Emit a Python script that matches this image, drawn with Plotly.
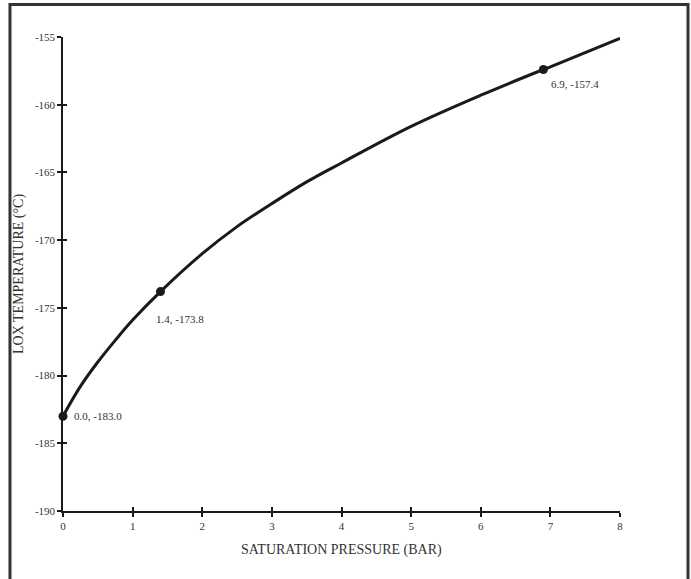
import plotly.graph_objects as go

# Saturation curve (gauge pressure in bar vs LOX temperature in °C)
pressure = [0, 0.25, 0.5, 0.75, 1.0, 1.4, 2.0, 2.5, 3.0, 3.5, 4.0, 5.0, 6.0, 6.9, 7.0, 8.0]
temperature = [-183.0, -180.8, -179.0, -177.4, -175.9, -173.8, -171.0, -169.0, -167.3, -165.7, -164.3, -161.6, -159.3, -157.4, -157.2, -155.1]

# Highlighted points
mark_p = [0.0, 1.4, 6.9]
mark_t = [-183.0, -173.8, -157.4]
mark_labels = ["0.0, -183.0", "1.4, -173.8", "6.9, -157.4"]

x_ticks = [0, 1, 2, 3, 4, 5, 6, 7, 8]
x_tick_text = ["0", "1", "2", "3", "4", "5", "6", "7", "8"]
y_ticks = [-190, -185, -180, -175, -170, -165, -160, -155]
y_tick_text = ["-190", "-185", "-180", "-175", "-170", "-165", "-160", "-155"]

FONT = "Liberation Serif"
INK = "#1a1a1a"
TXT = "#333333"

fig = go.Figure()
fig.add_trace(go.Scatter(x=pressure, y=temperature, mode="lines",
                         line=dict(color=INK, width=3, shape="spline"),
                         showlegend=False, hoverinfo="skip", cliponaxis=False))
fig.add_trace(go.Scatter(x=mark_p, y=mark_t, mode="markers",
                         marker=dict(color=INK, size=9),
                         showlegend=False, cliponaxis=False))
# invisible trace for the overlaid axes (inside half of crossing ticks)
fig.add_trace(go.Scatter(x=[0], y=[-190], xaxis="x2", yaxis="y2", mode="markers",
                         marker=dict(opacity=0), showlegend=False, hoverinfo="skip"))

axis_common = dict(showgrid=False, zeroline=False, showline=True, linecolor=INK,
                   linewidth=1.5, ticklen=4, tickwidth=1.5, tickcolor=INK,
                   tickfont=dict(family=FONT, size=11, color=TXT))

fig.update_layout(
    width=691, height=579,
    margin=dict(l=63, r=71, t=37, b=68),
    paper_bgcolor="white", plot_bgcolor="white",
    font=dict(family=FONT, color=TXT),
    xaxis=dict(range=[0, 8], tickvals=x_ticks, ticktext=x_tick_text, ticks="outside", **axis_common),
    yaxis=dict(range=[-190, -155], tickvals=y_ticks, ticktext=y_tick_text, ticks="outside", **axis_common),
    xaxis2=dict(range=[0, 8], tickvals=x_ticks, ticks="inside", overlaying="x",
                showticklabels=False, showgrid=False, zeroline=False, showline=False,
                ticklen=4, tickwidth=1.5, tickcolor=INK, anchor="y2"),
    yaxis2=dict(range=[-190, -155], tickvals=y_ticks, ticks="inside", overlaying="y",
                showticklabels=False, showgrid=False, zeroline=False, showline=False,
                ticklen=4, tickwidth=1.5, tickcolor=INK, anchor="x2"),
)

# point labels (pixel offsets from each point)
offsets = [(9, 0, "left", "middle"), (-6, 19, "left", "top"), (6, 6, "left", "top")]
for p, t, lab, (dx, dy, xa, ya) in zip(mark_p, mark_t, mark_labels, offsets):
    fig.add_annotation(x=p, y=t, text=lab, showarrow=False, xanchor=xa, yanchor=ya,
                       xshift=dx, yshift=-dy, font=dict(family=FONT, size=11, color=TXT))

# axis titles
fig.add_annotation(x=0.5, y=-0.082, xref="paper", yref="paper", text="SATURATION PRESSURE (BAR)",
                   showarrow=False, xanchor="center", yanchor="middle",
                   font=dict(family=FONT, size=14, color=TXT))
fig.add_annotation(x=-0.079, y=0.5, xref="paper", yref="paper", text="LOX TEMPERATURE (°C)",
                   showarrow=False, textangle=-90, xanchor="center", yanchor="middle",
                   font=dict(family=FONT, size=14, color=TXT))

# outer frame (bottom edge lies below the visible page)
fig.add_shape(type="rect", xref="paper", yref="paper",
              x0=-0.0952, x1=1.1221, y0=-0.20, y1=1.0686,
              line=dict(color="#333", width=3))

fig.write_html("out.html", config={"displayModeBar": False},
               post_script="document.body.style.margin='0';document.body.style.overflow='hidden';")
